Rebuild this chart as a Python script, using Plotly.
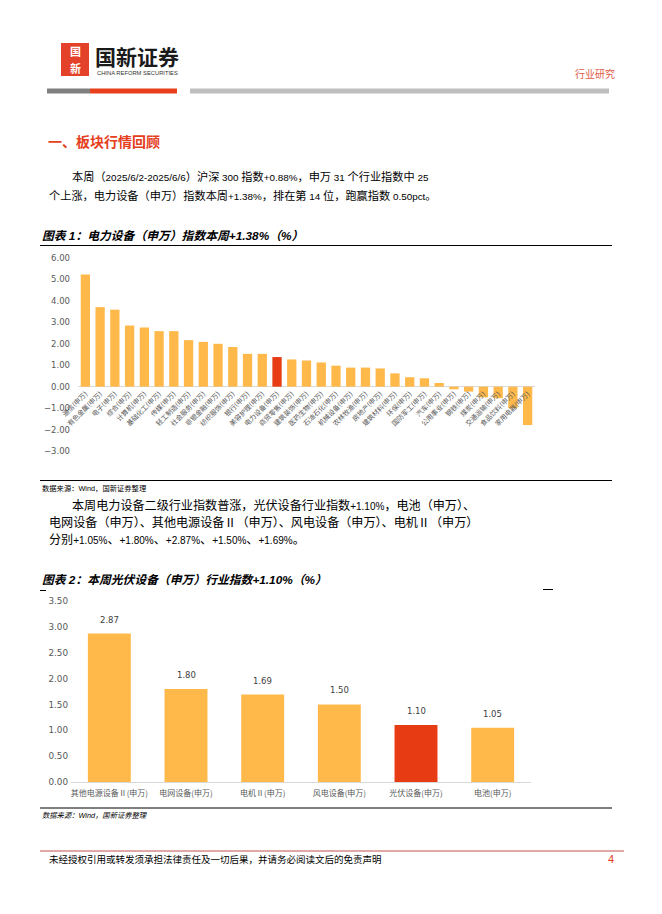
import re
import plotly.graph_objects as go

W, H = 662, 914

# ---------------- data ----------------
industries = ["通信", "有色金属", "电子", "综合", "计算机", "基础化工", "传媒", "轻工制造",
              "社会服务", "非银金融", "纺织服饰", "银行", "美容护理", "电力设备", "商贸零售",
              "建筑装饰", "医药生物", "石油石化", "机械设备", "农林牧渔", "房地产", "建筑材料",
              "环保", "国防军工", "汽车", "公用事业", "钢铁", "煤炭", "交通运输", "食品饮料", "家用电器"]
industry_returns = [5.23, 3.71, 3.59, 2.85, 2.76, 2.59, 2.59, 2.17, 2.09, 2.00, 1.85, 1.53, 1.53,
                    1.38, 1.27, 1.22, 1.13, 0.98, 0.89, 0.89, 0.85, 0.62, 0.44, 0.39, 0.17,
                    -0.12, -0.23, -0.50, -0.54, -1.01, -1.79]
highlight_industry = "电力设备"

sub_names = ["其他电源设备Ⅱ(申万)", "电网设备(申万)", "电机Ⅱ(申万)", "风电设备(申万)",
             "光伏设备(申万)", "电池(申万)"]
sub_returns = [2.87, 1.80, 1.69, 1.50, 1.10, 1.05]
highlight_sub = "光伏设备(申万)"

y1_ticks = [6, 5, 4, 3, 2, 1, 0, -1, -2, -3]
y2_ticks = [3.5, 3.0, 2.5, 2.0, 1.5, 1.0, 0.5, 0.0]

ORANGE = "#FFB94A"
RED = "#E63B13"
TITLE_RED = "#E5401D"
CJK = "Noto Sans CJK SC"
BODY = "Liberation Sans, Noto Sans CJK SC"

def fx(x):
    return x / W

def fy(y):
    return 1 - y / H

ann = []
shapes = []

def mixed(s, latin_size):
    # set runs of Latin characters at their own size next to the CJK text
    return re.sub(r"([\x20-\x7e]+)",
                  lambda m: f"<span style='font-size:{latin_size}px'>{m.group(1)}</span>", s)

def text(x, y, s, size, color="#000000", family=BODY, xanchor="left", weight="normal", style="normal"):
    ann.append(dict(x=fx(x), y=fy(y), xref="paper", yref="paper", text=s, showarrow=False,
                    xanchor=xanchor, yanchor="middle",
                    font=dict(size=size, color=color, family=family, weight=weight, style=style)))

def rect(x0, y0, x1, y1, color):
    shapes.append(dict(type="rect", xref="paper", yref="paper", x0=fx(x0), x1=fx(x1),
                       y0=fy(y1), y1=fy(y0), fillcolor=color, line=dict(width=0), layer="above"))

def hline(x0, x1, y, color="#000000", width=1):
    shapes.append(dict(type="line", xref="paper", yref="paper", x0=fx(x0), x1=fx(x1),
                       y0=fy(y), y1=fy(y), line=dict(color=color, width=width)))

# ---------------- header ----------------
rect(61, 43, 89, 76, "#E4412B")
text(75, 51, "<b>国</b>", 11, "#FFFFFF", CJK, "center")
text(75, 68, "<b>新</b>", 11, "#FFFFFF", CJK, "center")
text(93, 56, "国新证券", 21, "#1A1A1A", CJK, weight="bold")
text(95, 73, "CHINA REFORM SECURITIES", 5.8, "#333333", "Liberation Sans Narrow, Liberation Sans")
text(617, 73, "行业研究", 10, "#E05A47", CJK, "right")
rect(47, 88.5, 90, 93.5, "#808080")
rect(90, 88.5, 177, 93.5, "#E8401C")
rect(190, 88.5, 609, 93.5, "#BFBFBF")

# ---------------- section heading & paragraphs ----------------
text(46, 141, "一、板块行情回顾", 14, TITLE_RED, CJK, weight="bold")
P1_CJK, P1_LAT = 11.2, 9.9
text(70, 177, mixed("本周（2025/6/2-2025/6/6）沪深 300 指数+0.88%，申万 31 个行业指数中 25", P1_LAT), P1_CJK)
text(47, 196, mixed("个上涨，电力设备（申万）指数本周+1.38%，排在第 14 位，跑赢指数 0.50pct。", P1_LAT), P1_CJK)

text(40, 236, "图表 1：电力设备（申万）指数本周+1.38%（%）", 11.8, "#000000", BODY, weight="bold", style="italic")
hline(40, 612, 245.5)
hline(40, 612, 480.5)
text(40, 488, "数据来源：Wind，国新证券整理", 7.3, "#000000")

P2_CJK, P2_LAT = 12.1, 10.0
text(70, 506, mixed("本周电力设备二级行业指数普涨，光伏设备行业指数+1.10%，电池（申万）、", P2_LAT), P2_CJK)
text(47, 523, mixed("电网设备（申万）、其他电源设备Ⅱ（申万）、风电设备（申万）、电机Ⅱ（申万）", P2_LAT), P2_CJK)
text(47, 540, mixed("分别+1.05%、+1.80%、+2.87%、+1.50%、+1.69%。", P2_LAT), P2_CJK)

text(40, 580, "图表 2：本周光伏设备（申万）行业指数+1.10%（%）", 11.8, "#000000", BODY, weight="bold", style="italic")
hline(40, 46, 590.5)
hline(543, 553, 589.5)
hline(40, 612, 808)
text(40, 815, "数据来源：Wind，国新证券整理", 7.3, "#000000", style="italic")

# ---------------- footer ----------------
hline(40, 624, 851, "#C0504D", 1)
text(47, 859, "未经授权引用或转发须承担法律责任及一切后果，并请务必阅读文后的免责声明", 9.5, "#000000", CJK)
text(616, 859, "4", 11, TITLE_RED, "Liberation Sans", "right")

# ---------------- charts ----------------
fig = go.Figure()

cat1 = [f"{n}(申万)" for n in industries]
col1 = [RED if n == highlight_industry else ORANGE for n in industries]
fig.add_trace(go.Bar(x=cat1, y=industry_returns, marker=dict(color=col1, line=dict(width=0)),
                     width=0.63, xaxis="x", yaxis="y", hoverinfo="skip"))

col2 = [RED if n == highlight_sub else ORANGE for n in sub_names]
fig.add_trace(go.Bar(x=sub_names, y=sub_returns, marker=dict(color=col2, line=dict(width=0)),
                     width=0.56, xaxis="x2", yaxis="y2", hoverinfo="skip"))

for n, v in zip(sub_names, sub_returns):
    ann.append(dict(x=n, y=v, xref="x2", yref="y2", text=f"{v:.2f}", showarrow=False,
                    yanchor="bottom", yshift=7,
                    font=dict(size=8.5, color="#404040", family="DejaVu Sans")))

y1_min, y1_max = min(y1_ticks), max(y1_ticks)
y1_dom = [fy(451), fy(258)]
x1_pos = y1_dom[0] + (y1_dom[1] - y1_dom[0]) * (0 - y1_min) / (y1_max - y1_min)

fig.update_layout(
    template="none",
    width=W, height=H, autosize=False,
    margin=dict(l=0, r=0, t=0, b=0, pad=0, autoexpand=False),
    paper_bgcolor="white", plot_bgcolor="rgba(0,0,0,0)",
    showlegend=False, bargap=0.3,
    annotations=ann, shapes=shapes,
    xaxis=dict(domain=[fx(78), fx(535)], anchor="free", position=x1_pos, automargin=False,
               showgrid=False, zeroline=False, showline=False, ticks="",
               tickangle=-45, tickfont=dict(size=6.8, color="#595959", family=CJK),
               ticklabelstandoff=1, fixedrange=True),
    yaxis=dict(domain=y1_dom, range=[y1_min, y1_max], tickvals=y1_ticks, tickformat=".2f",
               automargin=False,
               showgrid=False, zeroline=True, zerolinecolor="#D9D9D9", zerolinewidth=1,
               showline=False, ticks="", tickfont=dict(size=8.5, color="#595959", family="DejaVu Sans"),
               ticklabelstandoff=7, fixedrange=True),
    xaxis2=dict(domain=[fx(71), fx(531)], anchor="y2", automargin=False,
                showgrid=False, zeroline=False, showline=True, linecolor="#D9D9D9", linewidth=1,
                ticks="", tickangle=0, tickfont=dict(size=8, color="#595959", family=CJK),
                ticklabelstandoff=3, fixedrange=True),
    yaxis2=dict(domain=[fy(782), fy(601)], range=[0, 3.5], tickvals=y2_ticks, tickformat=".2f",
                automargin=False,
                showgrid=False, zeroline=False, showline=False, ticks="",
                tickfont=dict(size=8.8, color="#595959", family="DejaVu Sans"),
                ticklabelstandoff=9, fixedrange=True),
)

fig.write_html("out.html", config={"displayModeBar": False},
               post_script="document.body.style.margin='0';document.body.style.padding='0';")
